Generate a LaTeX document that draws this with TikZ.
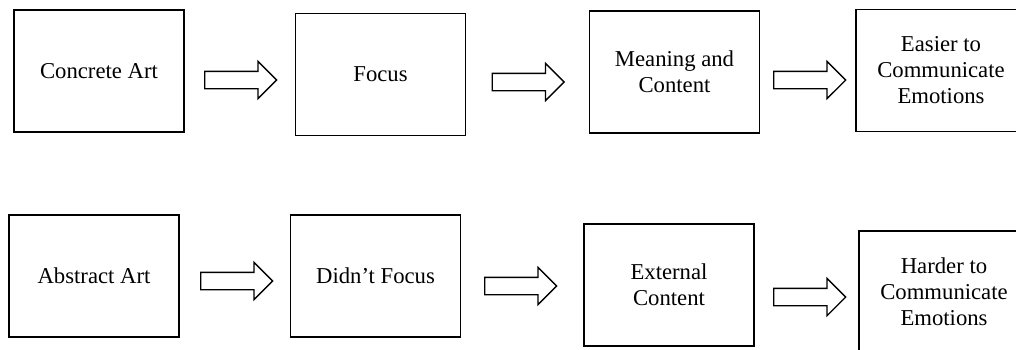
\documentclass[tikz,border=0pt]{standalone}
\usepackage{fontspec}
\setmainfont{Liberation Serif}
\usetikzlibrary{shapes.arrows}
\tikzset{
  box/.style={draw, line width=1.6pt, minimum width=170pt, minimum height=122pt, align=center, inner sep=2pt, font=\fontsize{22.7}{26}\selectfont},
  blockarr/.style={draw, single arrow, line width=1.3pt, fill=white, minimum height=72pt, single arrow head extend=10pt, single arrow head indent=0pt, inner xsep=0pt, inner ysep=8pt, anchor=tail},
}

\begin{document}
\begin{tikzpicture}[x=1pt, y=-1pt]
\clip (0,0) rectangle (1016,349);
% top row
\node[box] (concrete) at (99,71) {Concrete Art};
\node[box] (focus) at (380.5,74.5) {Focus};
\node[box] (meaning) at (674.5,72) {Meaning and\\Content};
\node[box] (easier) at (941,70.5) {Easier to\\Communicate\\Emotions};
\node[blockarr] (a1) at (204,80) {};
\node[blockarr] (a2) at (491.5,82) {};
\node[blockarr] (a3) at (773,80) {};
% bottom row
\node[box] (abstract) at (94,276) {Abstract Art};
\node[box] (nofocus) at (375.5,276) {Didn’t Focus};
\node[box] (external) at (669,285) {External\\Content};
\node[box] (harder) at (944,292) {Harder to\\Communicate\\Emotions};
\node[blockarr] (a4) at (200,281) {};
\node[blockarr] (a5) at (484,286) {};
\node[blockarr] (a6) at (773,297) {};
\end{tikzpicture}
\end{document}
